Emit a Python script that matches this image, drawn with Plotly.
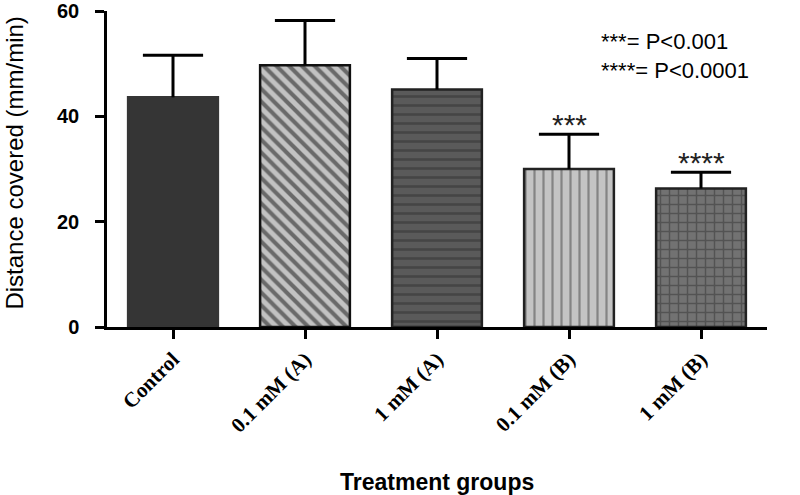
import plotly.graph_objects as go

categories = ["Control", "0.1 mM (A)", "1 mM (A)", "0.1 mM (B)", "1 mM (B)"]
means = [43.6, 49.7, 45.1, 30.0, 26.3]
sd_upper = [8.0, 8.5, 5.9, 6.6, 3.1]
significance = ["", "", "", "***", "****"]

fill_colors = ["#353535", "#c2c2c2", "#5a5a5a", "#c4c4c4", "#727272"]
line_colors = ["#353535", "#111111", "#222222", "#222222", "#222222"]
pattern_shapes = ["", "\\", "-", "|", "+"]
pattern_fg = ["#353535", "#111111", "#303030", "#444444", "#333333"]
pattern_solidity = [0.3, 0.45, 0.3, 0.25, 0.3]

fig = go.Figure()
for i, c in enumerate(categories):
    fig.add_trace(go.Bar(
        x=[c], y=[means[i]],
        width=0.68,
        marker=dict(
            color=fill_colors[i],
            line=dict(color=line_colors[i], width=2.5),
            pattern=dict(shape=pattern_shapes[i], fgcolor=pattern_fg[i],
                         bgcolor=fill_colors[i], size=9, solidity=pattern_solidity[i],
                         fillmode="overlay"),
        ),
        showlegend=False,
    ))

# error bar stems (upper only) and caps
stem_x, stem_y = [], []
for i, c in enumerate(categories):
    stem_x += [c, c, None]
    stem_y += [means[i], means[i] + sd_upper[i], None]
fig.add_trace(go.Scatter(x=stem_x, y=stem_y, mode="lines",
                         line=dict(color="black", width=3), showlegend=False, hoverinfo="skip"))
fig.add_trace(go.Scatter(x=categories, y=[m + s for m, s in zip(means, sd_upper)], mode="markers",
                         marker=dict(symbol="line-ew", size=43, line=dict(color="black", width=3)),
                         showlegend=False, hoverinfo="skip"))

for i, s in enumerate(significance):
    if s:
        fig.add_annotation(x=categories[i], y=means[i] + sd_upper[i], text=s,
                           showarrow=False, yanchor="bottom", yshift=-9,
                           font=dict(family="Liberation Sans, Arial", size=30, color="#222"))

fig.add_annotation(xref="paper", yref="paper", x=0.745, y=0.857, xanchor="left", yanchor="middle",
                   text="***= P<0.001<br>****= P<0.0001", align="left", showarrow=False,
                   font=dict(family="Liberation Sans, Arial", size=22, color="black"))

# axis titles
fig.add_annotation(xref="paper", yref="paper", x=0.5, y=-0.492, xanchor="center", yanchor="middle",
                   text="<b>Treatment groups</b>", showarrow=False,
                   font=dict(family="Liberation Sans, Arial", size=23, color="black"))
fig.add_annotation(xref="paper", yref="paper", x=-0.14, y=0.519, xanchor="center", yanchor="middle",
                   text="Distance covered (mm/min)", textangle=-90, showarrow=False,
                   font=dict(family="Liberation Sans, Arial", size=24, color="black"))

fig.update_layout(
    width=800, height=495,
    margin=dict(l=107, r=33, t=11, b=168),
    plot_bgcolor="white", paper_bgcolor="white",
    xaxis=dict(
        range=[-0.5, 4.5], showline=True, linecolor="black", linewidth=2.5,
        ticks="outside", ticklen=9, tickwidth=2.5, tickcolor="black",
        tickangle=-45, automargin=False,
        tickfont=dict(family="Liberation Serif, Times New Roman", size=21, color="black", weight="bold"),
        showgrid=False, zeroline=False,
    ),
    yaxis=dict(
        range=[0, 60], tickvals=[0, 20, 40, 60], showline=True, linecolor="black", linewidth=2.5,
        ticks="outside", ticklen=9, tickwidth=2.5, tickcolor="black", automargin=False,
        ticklabelstandoff=12,
        tickfont=dict(family="Liberation Sans, Arial", size=20, color="black", weight="bold"),
        showgrid=False, zeroline=False,
    ),
)

fig.write_html("out.html", config={"displayModeBar": False},
               post_script="document.body.style.margin='0px';document.body.style.overflow='hidden';")
